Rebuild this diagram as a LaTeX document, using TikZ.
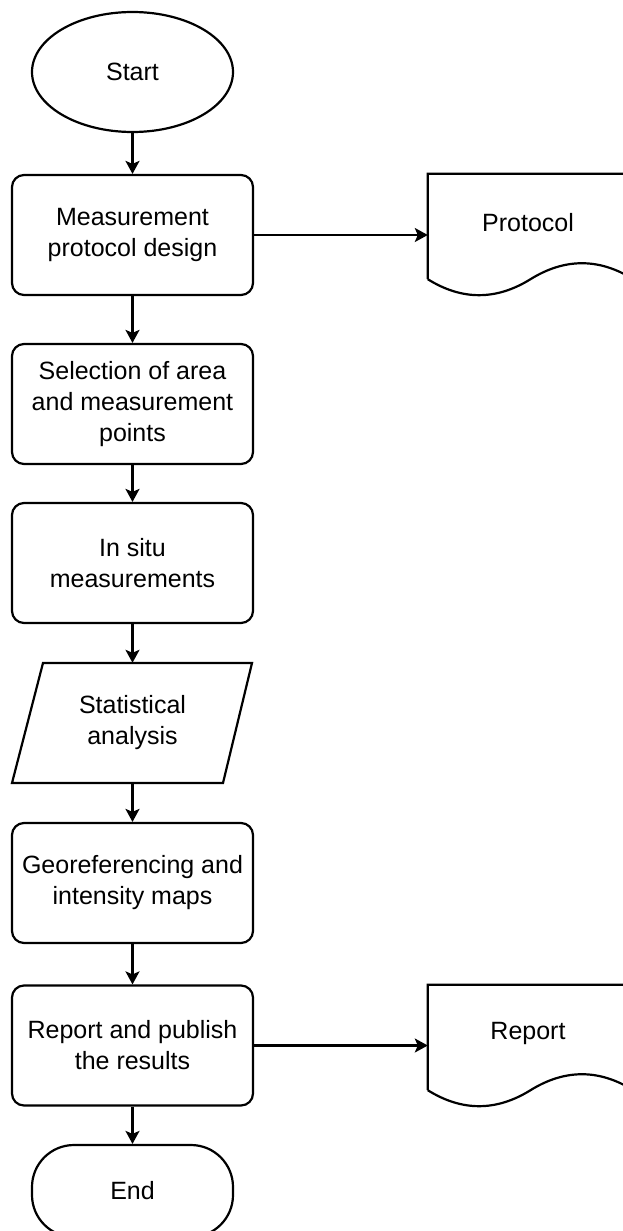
\documentclass[tikz,border=0pt]{standalone}
\usepackage{fontspec}
\setmainfont{Liberation Sans}
\usetikzlibrary{shapes.geometric,arrows.meta,calc}
\begin{document}
\begin{tikzpicture}[x=1pt,y=-1pt,
  every node/.style={font=\fontsize{25}{31}\selectfont, align=center, inner sep=0pt},
  line/.style={line width=2.2pt, black},
  proc/.style={line, draw, rectangle, rounded corners=12pt, minimum width=241pt, minimum height=120pt},
  term/.style={line, draw, ellipse, minimum width=201pt, minimum height=120pt},
  docbox/.style={rectangle, minimum width=205pt, minimum height=105pt},
  flow/.style={line, -{Stealth[length=13pt,width=14pt,inset=3pt]}}
]
\useasboundingbox (0,0) rectangle (622,1231);
\fill[white] (0,0) rectangle (622,1231);

\node[term] (start) at (132.5,72) {\raisebox{-4pt}{Start}};
\node[proc] (design) at (132.5,235) {Measurement\\protocol design};
\node[proc] (select) at (132.5,404) {Selection of area\\and measurement\\points};
\node[proc] (insitu) at (132.5,563) {In situ\\measurements};
\node[rectangle, minimum width=210pt, minimum height=120pt] (stat) at (132.5,723) {Statistical\\analysis};
\draw[line] (12,783) -- (43,663) -- (252,663) -- (223,783) -- cycle;
\node[proc] (geo) at (132.5,883) {Georeferencing and\\intensity maps};
\node[proc] (report) at (132.5,1045.5) {Report and publish\\the results};
\node[line, draw, rectangle, rounded corners=42pt, minimum width=201pt, minimum height=92pt] (endn) at (132.5,1191) {End};

% document shapes
\node[docbox] (protdoc) at (530.5,226.5) {};
\node at (528,223) {Protocol};
\node[docbox] (repdoc) at (530.5,1037.5) {};
\node at (528,1033) {Report};
\foreach \d in {protdoc,repdoc}{
  \draw[line] (\d.south west) -- (\d.north west) -- (\d.north east) -- (\d.south east)
    .. controls ($(\d.south east)+(-34,-21.3)$) and ($(\d.south)+(34.3,-21.3)$) .. (\d.south)
    .. controls ($(\d.south)+(-34.3,21.3)$) and ($(\d.south west)+(34,21.3)$) .. (\d.south west);
}

\draw[flow] (start) -- (design);
\draw[flow] (design) -- (select);
\draw[flow] (select) -- (insitu);
\draw[flow] (insitu) -- (stat);
\draw[flow] (stat) -- (geo);
\draw[flow] (geo) -- (report);
\draw[flow] (report) -- (endn);
\draw[flow] (design.east) -- (design.east -| protdoc.west);
\draw[flow] (report.east) -- (report.east -| repdoc.west);
\end{tikzpicture}
\end{document}
